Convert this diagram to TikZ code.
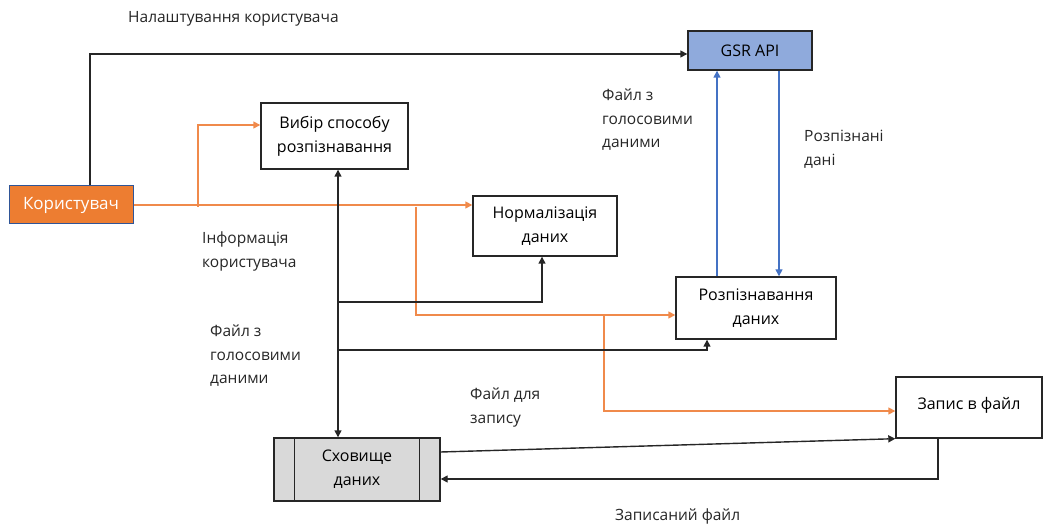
\documentclass[tikz,border=0pt]{standalone}
\usepackage{fontspec}
\setmainfont{Open Sans}
\usetikzlibrary{arrows.meta}
\definecolor{usrfill}{HTML}{ED7D31}
\definecolor{usrline}{HTML}{2F5597}
\definecolor{apifill}{HTML}{8FAADC}
\definecolor{flowor}{HTML}{F08A4B}
\definecolor{flowbl}{HTML}{4472C4}
\definecolor{storefill}{HTML}{D9D9D9}
\definecolor{ink}{HTML}{262626}
\tikzset{
  tip/.style={-{Triangle[width=7pt,length=7pt]}},
  box/.style={draw=ink, line width=1.4pt, fill=white, align=center,
    font=\fontsize{16}{24}\selectfont, inner sep=0pt},
  blk/.style={draw=ink, line width=1.4pt, tip},
  org/.style={draw=flowor, line width=1.5pt, tip},
  blu/.style={draw=flowbl, line width=1.4pt, tip},
  lbl/.style={align=left, anchor=north west, inner sep=0pt,
    font=\fontsize{15.5}{23.5}\selectfont, text=ink},
}
\begin{document}
\begin{tikzpicture}[x=1pt,y=-1pt]
\useasboundingbox (0,0) rectangle (1044,526);

% blocks
\node[box, fill=usrfill, draw=usrline, line width=1pt, text=white,
      font=\fontsize{17}{24}\selectfont,
      minimum width=124pt, minimum height=38pt] (usr) at (71,205) {Користувач};
\node[box, fill=apifill, minimum width=124pt, minimum height=39pt] (gsr) at (750,50.5) {GSR API};
\node[box, minimum width=147pt, minimum height=66pt] (vyb) at (334.5,136) {Вибір способу\\розпізнавання};
\node[box, minimum width=144pt, minimum height=60pt] (norm) at (545,226) {Нормалізація\\даних};
\node[box, minimum width=160pt, minimum height=62pt] (rozp) at (756,308) {Розпізнавання\\даних};
\node[box, minimum width=146pt, minimum height=61pt] (zap) at (969,407.5) {\raisebox{9pt}{Запис в файл}};
\node[box, fill=storefill, minimum width=166pt, minimum height=63pt] (sx) at (357,469.5) {Сховище\\даних};
\draw[ink, line width=1.4pt] (sx.north west)+(21,0) -- ++(21,63);
\draw[ink, line width=1.4pt] (sx.north east)+(-21,0) -- ++(-21,63);

% routing points
\coordinate (kup) at (90,0);
\coordinate (ob1) at (198,207);
\coordinate (ob2) at (416,207);
\coordinate (ob3) at (604,315);
\coordinate (bup) at (717,0);
\coordinate (bdn) at (779,0);
\coordinate (vtr) at (338,0);
\coordinate (hb1) at (338,302);
\coordinate (hb2) at (338,350);
\coordinate (nin) at (542,0);
\coordinate (rin) at (707,0);
\coordinate (zdn) at (938,0);

% user settings to the API
\draw[blk] (usr.north -| kup) |- ([yshift=-3.5pt]gsr.west);

% user information flows
\draw[org] (usr.east) -- (usr.east -| norm.west);
\draw[org] (ob1) |- ([yshift=11pt]vyb.west);
\draw[org] (ob2) |- ([yshift=-7pt]rozp.west);
\draw[org] (ob3) |- ([yshift=-3.5pt]zap.west);

% exchange with the API
\draw[blu] (rozp.north -| bup) -- (gsr.south -| bup);
\draw[blu] (gsr.south -| bdn) -- (rozp.north -| bdn);

% voice data file from storage
\draw[blk, {Triangle[width=7pt,length=7pt]}-{Triangle[width=7pt,length=7pt]}]
  (vyb.south -| vtr) -- (sx.north -| vtr);
\draw[blk] (hb1) -| (norm.south -| nin);
\draw[blk] (hb2) -| (rozp.south -| rin);

% writing to file and back
\draw[blk] ([yshift=17.5pt]sx.east) -- (zap.south west);
\draw[blk] (zap.south -| zdn) |- ([yshift=-9.5pt]sx.east);

% labels
\node[lbl] (l1) at (128,11) {Налаштування користувача};
\node[lbl] (l2) at (602,89) {Файл з\\голосовими\\даними};
\node[lbl] (l3) at (804,130) {Розпізнані\\дані};
\node[lbl] (l4) at (202,232) {Інформація\\користувача};
\node[lbl] (l5) at (210,325) {Файл з\\голосовими\\даними};
\node[lbl] (l6) at (470,388) {Файл для\\запису};
\node[lbl] (l7) at (615,509) {Записаний файл};
\end{tikzpicture}
\end{document}
